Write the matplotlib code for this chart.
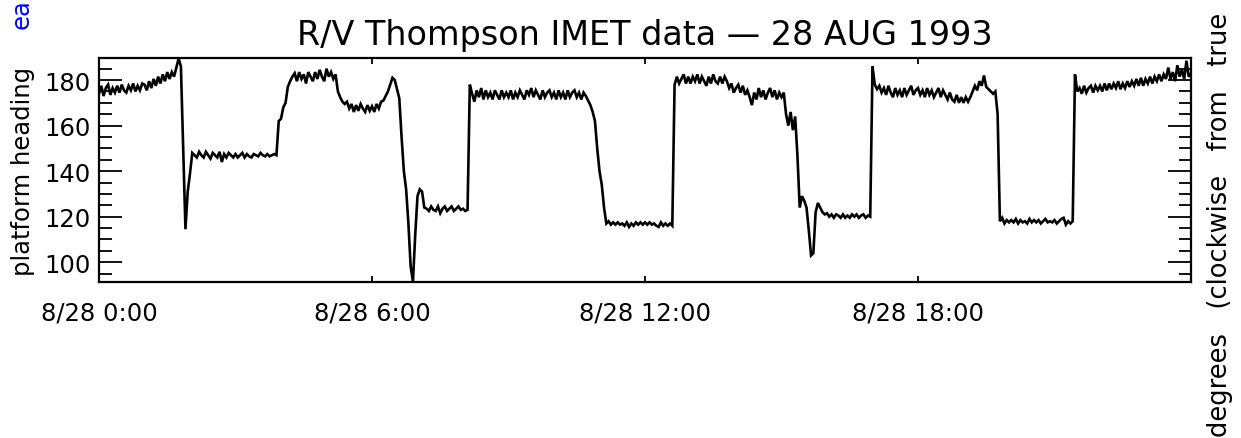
import numpy as np
import matplotlib
matplotlib.use("Agg")
import matplotlib.pyplot as plt
from matplotlib.ticker import MultipleLocator, FixedLocator

# ---- data: platform heading (deg) sampled every 3 minutes, one list per hour ----
sample_minutes = 3
h00 = [174, 177.5, 173, 176.5, 178, 173.5, 176.5, 174.5, 177.5, 174.5, 178, 175.5, 174.5, 177.5, 175.5, 178.5, 175, 177.5, 175.5, 178.5]
h01 = [178, 175.5, 179.5, 176.5, 180.5, 177.5, 181.5, 178.5, 182.5, 179.5, 183.5, 180.5, 183.5, 181.5, 185.5, 189.5, 186, 151, 114.5, 131]
h02 = [139, 148, 147, 146, 148.5, 147, 146, 148.5, 147, 145.5, 148, 147, 146, 148.5, 144, 147.5, 146, 148, 147, 146]
h03 = [147.5, 146, 147, 148, 146, 147.5, 146.5, 146, 147.5, 147, 146.5, 148, 147, 146.5, 147.5, 146.5, 147, 147.5, 147, 162]
h04 = [163, 168, 170, 177, 179.5, 181.5, 183, 179.5, 183.5, 180.5, 182.5, 178.5, 183.5, 181.5, 179.5, 183.5, 180.5, 184.5, 181.5, 179.5]
h05 = [185, 181.5, 183.5, 180.5, 182.5, 175, 172.5, 170.5, 169.5, 170.5, 167.5, 169.5, 166, 169, 166.5, 169.5, 167.5, 166, 169, 166.5]
h06 = [168.5, 166, 169.5, 167.5, 170.5, 171, 173, 175, 178, 181, 180, 176, 172, 155, 140, 132, 117, 98, 91.5, 112]
h07 = [129, 132, 131, 124, 123.5, 122.5, 124.5, 123, 122.5, 124.5, 121.5, 123.5, 124.5, 122.5, 123.5, 124.5, 122.5, 123.5, 124.5, 123]
h08 = [123.5, 122.5, 123, 178, 174, 170.5, 175.5, 172.5, 176.5, 171.5, 175.5, 172.5, 174.5, 171.5, 175.5, 173.5, 171.5, 175.5, 172.5, 174.5]
h09 = [172.5, 175.5, 171.5, 174.5, 172.5, 175.5, 173.5, 171.5, 175.5, 173.5, 176.5, 172.5, 175.5, 173.5, 171.5, 175.5, 172.5, 174.5, 175.5, 172.5]
h10 = [174.5, 171.5, 175.5, 172.5, 174.5, 171.5, 175.5, 172.5, 174.5, 175.5, 172.5, 174.5, 171.5, 174.5, 173, 171, 169, 166, 162, 150]
h11 = [140, 134, 124, 117, 118, 116.5, 117.5, 116.5, 117.5, 116.5, 117, 116, 117.5, 115.5, 117, 116, 117.5, 116.5, 117.5, 116.5]
h12 = [117.5, 116.5, 117.5, 116.5, 117, 116, 115.5, 117.5, 116, 117, 116, 117, 116, 178, 181.5, 178.5, 180.5, 182.5, 178.5, 181.5]
h13 = [178.5, 181.5, 179.5, 182.5, 178.5, 181.5, 179.5, 177.5, 181.5, 178.5, 182.5, 179.5, 178.5, 181.5, 178.5, 181.5, 179.5, 176.5, 178.5, 174.5]
h14 = [176.5, 178, 174.5, 177.5, 173.5, 175.5, 172.5, 169, 174.5, 171.5, 176.5, 172.5, 175.5, 171.5, 174.5, 176.5, 172.5, 175.5, 171.5, 174.5]
h15 = [172.5, 174.5, 165, 160, 166, 158, 164, 147, 124, 129, 127, 124, 114, 103, 104, 122, 126, 124, 122, 121]
h16 = [121.5, 120, 121, 119.5, 121, 120.5, 119.5, 121, 119.5, 120.5, 119.5, 121, 120, 121, 119.5, 120.5, 121, 119.5, 120.5, 120]
h17 = [186, 178, 176, 177.5, 174.5, 176.5, 173.5, 177.5, 174.5, 172.5, 176.5, 173.5, 175.5, 172.5, 176.5, 173.5, 175.5, 177.5, 173.5, 175.5]
h18 = [176.5, 173.5, 175.5, 172.5, 176.5, 173.5, 175.5, 172.5, 174.5, 176.5, 172.5, 175.5, 173.5, 171.5, 174.5, 171.5, 170.5, 173.5, 170, 172.5]
h19 = [170, 172.5, 170.5, 172.5, 175, 177.5, 175.5, 179.5, 177.5, 182, 177, 176, 175, 174, 175, 165, 118, 119.5, 117, 118.5]
h20 = [117.5, 118.5, 117.5, 119, 117, 118.5, 117.5, 118, 117, 119, 117.5, 118.5, 117.5, 118.5, 117, 118, 119, 117.5, 118, 117.5]
h21 = [118.5, 117, 118, 119, 119.5, 116.5, 118, 117, 118, 182.5, 175, 176.5, 174, 177.5, 174.5, 176.5, 177.5, 174.5, 177.5, 175.5]
h22 = [177.5, 175, 178.5, 175.5, 178.5, 176, 178.5, 176.5, 179.5, 176, 178.5, 176.5, 179.5, 177, 179.5, 177.5, 180.5, 177.5, 181, 177.5]
h23 = [180.5, 178.5, 181.5, 178.5, 181.5, 179.5, 182.5, 179.5, 182.5, 180.5, 185.5, 180.5, 183.5, 179.5, 186.5, 181.5, 184.5, 180.5, 188.5, 181.5]
h24 = [183]

x_tick_hours = [0, 6, 12, 18]
x_tick_labels = ["8/28 0:00", "8/28 6:00", "8/28 12:00", "8/28 18:00"]
y_tick_values = [100, 120, 140, 160, 180]

hourly = [h00, h01, h02, h03, h04, h05, h06, h07, h08, h09, h10, h11,
          h12, h13, h14, h15, h16, h17, h18, h19, h20, h21, h22, h23, h24]
times, heading = [], []
for hr, vals in enumerate(hourly):
    for k, v in enumerate(vals):
        times.append(hr + k * sample_minutes / 60.0)
        heading.append(v)

# ---- figure ----
W, H = 1241, 439
FS = 17.5
fig = plt.figure(figsize=(W / 100, H / 100), dpi=100)
fig.patch.set_facecolor("white")
ax = fig.add_axes([99 / W, 1 - 283 / H, (1191 - 99) / W, (283 - 59) / H])
ax.plot(times, heading, color="black", lw=1.9, solid_joinstyle="miter")
ax.set_xlim(0, 24)
ax.set_ylim(91.3, 189.7)

ax.xaxis.set_major_locator(FixedLocator(x_tick_hours))
ax.set_xticklabels(x_tick_labels)
ax.yaxis.set_major_locator(FixedLocator(y_tick_values))
ax.yaxis.set_minor_locator(MultipleLocator(5))
ax.tick_params(axis="x", which="major", direction="in", length=4.5, width=1.3,
               top=True, bottom=True, labelsize=FS, pad=13)
ax.tick_params(axis="x", which="minor", length=0)
ax.tick_params(axis="y", which="major", direction="in", length=16.5, width=1.3,
               left=True, right=True, labelsize=FS, pad=6)
ax.tick_params(axis="y", which="minor", direction="in", length=9, width=1.3,
               left=True, right=True)
for s in ax.spines.values():
    s.set_linewidth(1.6)

fig.text(645 / W, 1 - 35 / H, "R/V Thompson IMET data \u2014 28 AUG 1993",
         ha="center", va="center", fontsize=24)
fig.text(23 / W, 1 - 171 / H, "platform heading", rotation=90,
         ha="center", va="center", fontsize=FS)
fig.text(1220 / W, 1 - 437 / H, "degrees   (clockwise   from   true", rotation=90,
         ha="center", va="bottom", fontsize=18.5)
fig.text(22 / W, 1 - 29 / H, "ea", rotation=90, ha="center", va="bottom",
         fontsize=FS, color="blue")

fig.savefig("out.png", dpi=100)
